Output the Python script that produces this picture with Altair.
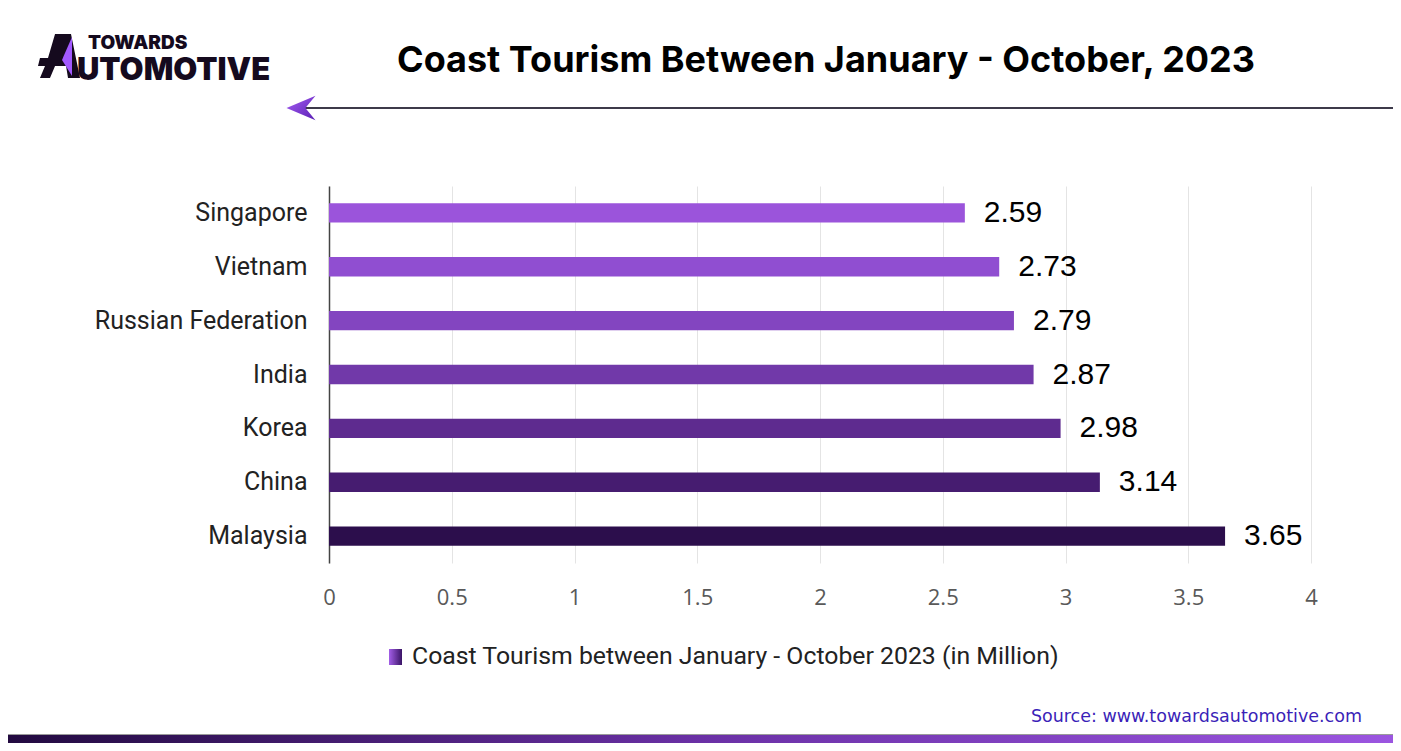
import altair as alt
import pandas as pd

countries = ["Singapore", "Vietnam", "Russian Federation", "India", "Korea", "China", "Malaysia"]
values = [2.59, 2.73, 2.79, 2.87, 2.98, 3.14, 3.65]
bar_colors = ["#9B54DB", "#904ED1", "#8345C0", "#7139A9", "#5E2B8F", "#461C70", "#2C0E4C"]
x_ticks = [0, 0.5, 1, 1.5, 2, 2.5, 3, 3.5, 4]

title_text = "Coast Tourism Between January - October, 2023"
legend_text = "Coast Tourism between January - October 2023 (in Million)"
source_text = "Source: www.towardsautomotive.com"

df = pd.DataFrame({"country": countries, "value": values})
one = pd.DataFrame({"k": [0]})

W, H = 982, 377

y_enc = alt.Y("country:N", sort=countries,
              scale=alt.Scale(paddingInner=0.64, paddingOuter=0.32),
              axis=alt.Axis(title=None, domain=True, domainColor="#444444", domainWidth=1.5,
                            ticks=False, labelPadding=22, labelFont="Roboto", labelFontSize=25,
                            labelColor="#222222", grid=False, labelLimit=400))
x_enc = alt.X("value:Q", scale=alt.Scale(domain=[0, 4], nice=False),
              axis=alt.Axis(title=None, values=x_ticks, domain=False, ticks=False, format="~g",
                            labelPadding=24, labelFont="Open Sans", labelFontSize=22,
                            labelColor="#595959", grid=True, gridColor="#e4e4e4", gridWidth=1,
                            labelFlush=False))

bars = alt.Chart(df).mark_bar().encode(
    x=x_enc, y=y_enc,
    color=alt.Color("country:N", scale=alt.Scale(domain=countries, range=bar_colors), legend=None),
)
labels = alt.Chart(df).mark_text(align="left", baseline="middle", dx=19, font="Liberation Sans",
                                 fontSize=30, color="#000000").encode(
    x=x_enc, y=y_enc,
    text=alt.Text("value:Q", format=".2f"))

title = alt.Chart(one).mark_text(text=title_text, font="Inter", fontWeight="bold", fontSize=36,
                                 align="center", baseline="alphabetic", color="#000000").encode(
    x=alt.value(497), y=alt.value(-114))

arrow_line = alt.Chart(one).mark_rule(color="#3d3a4a", strokeWidth=2).encode(
    x=alt.value(-39), x2=alt.value(1072), y=alt.value(-78))
arrow_head = alt.Chart(one).mark_point(
    shape="M -1 0 L 1 -0.85 L 0.3 0 L 1 0.85 Z", filled=True, opacity=1, strokeWidth=0,
    fill=alt.LinearGradient(gradient="linear", x1=0, y1=0, x2=1, y2=1,
                            stops=[alt.GradientStop(offset=0, color="#a55ef2"),
                                   alt.GradientStop(offset=1, color="#5a1fb5")]),
    size=841).encode(x=alt.value(-28), y=alt.value(-78))

logo_dark = alt.Chart(one).mark_point(
    shape=("M -0.18 -1 L 0.545 -1 L 0.955 1 L 0.41 1 L 0.32 0.455 L -0.18 0.455 L -0.41 1 "
           "L -0.864 1 L -0.636 0.455 L -0.955 0.455 L -0.864 0.09 L -0.5 0.09 Z"),
    filled=True, opacity=1, strokeWidth=0, fill="#150a1e", size=1936).encode(
    x=alt.value(-270), y=alt.value(-130))
logo_purple = alt.Chart(one).mark_point(
    shape="M 0.59 -0.864 L 0.136 0.18 L 0.59 0.91 Z",
    filled=True, opacity=1, strokeWidth=0, fill="#a259ff", size=1936).encode(
    x=alt.value(-270), y=alt.value(-130))
logo_t1 = alt.Chart(one).mark_text(text="TOWARDS", font="Inter", fontWeight=900, fontSize=19,
                                   align="left", baseline="alphabetic", color="#150a1e").encode(
    x=alt.value(-241), y=alt.value(-137))
logo_t2 = alt.Chart(one).mark_text(text="UTOMOTIVE", font="Inter", fontWeight=900, fontSize=31,
                                   align="left", baseline="alphabetic", color="#150a1e").encode(
    x=alt.value(-252), y=alt.value(-106))

legend_sq = alt.Chart(one).mark_rect(
    fill=alt.LinearGradient(gradient="linear", x1=0, y1=0, x2=1, y2=0,
                            stops=[alt.GradientStop(offset=0, color="#a35ee8"),
                                   alt.GradientStop(offset=1, color="#3a1466")])).encode(
    x=alt.value(60), x2=alt.value(73), y=alt.value(463), y2=alt.value(479))
legend_tx = alt.Chart(one).mark_text(text=legend_text, font="Roboto", fontSize=24.8, align="left",
                                     baseline="middle", color="#222222").encode(
    x=alt.value(83), y=alt.value(471))

source = alt.Chart(one).mark_text(text=source_text, font="DejaVu Sans", fontSize=17.5, align="right",
                                  baseline="middle", color="#3b1fb8").encode(
    x=alt.value(1033), y=alt.value(531))

bottom_line = alt.Chart(one).mark_rule(color="#9a9a9a", strokeWidth=1).encode(
    x=alt.value(-321), x2=alt.value(1064), y=alt.value(548.5))
bottom_bar = alt.Chart(one).mark_rect(
    fill=alt.LinearGradient(gradient="linear", x1=0, y1=0, x2=1, y2=0,
                            stops=[alt.GradientStop(offset=0, color="#220a40"),
                                   alt.GradientStop(offset=0.5, color="#6a30a5"),
                                   alt.GradientStop(offset=1, color="#9b55e0")])).encode(
    x=alt.value(-321), x2=alt.value(1064), y=alt.value(549), y2=alt.value(557))

chart = alt.layer(
    bars, labels, title, arrow_line, arrow_head, logo_dark, logo_purple, logo_t1, logo_t2,
    legend_sq, legend_tx, source, bottom_line, bottom_bar
).properties(
    width=W, height=H,
    autosize=alt.AutoSizeParams(type="none"),
    padding={"left": 321, "top": 178, "right": 82, "bottom": 180},
).configure(background="#ffffff").configure_view(strokeWidth=0, stroke="transparent")

chart.save("out.html", embed_options={"renderer": "svg", "actions": False})
